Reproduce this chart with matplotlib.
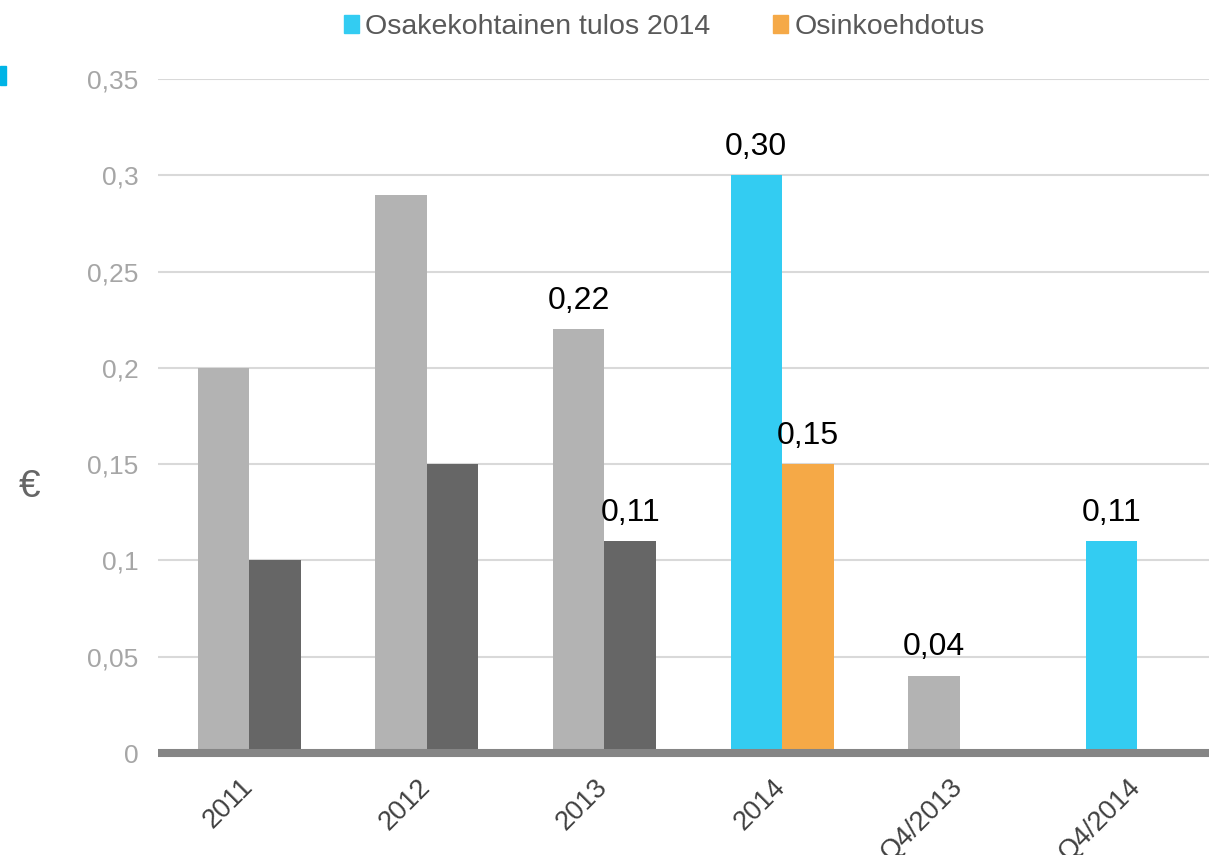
import matplotlib.pyplot as plt
from matplotlib.patches import Patch, Rectangle

categories = ["2011", "2012", "2013", "2014", "Q4/2013", "Q4/2014"]
eps = [0.20, 0.29, 0.22, 0.30, 0.04, 0.11]
dividend = [0.10, 0.15, 0.11, 0.15, None, None]
eps_colors = ["#b3b3b3", "#b3b3b3", "#b3b3b3", "#33ccf2", "#b3b3b3", "#33ccf2"]
div_colors = ["#666666", "#666666", "#666666", "#f5a947", None, None]
eps_labels = [None, None, "0,22", "0,30", "0,04", "0,11"]
div_labels = [None, None, "0,11", "0,15", None, None]
yticks = [0, 0.05, 0.1, 0.15, 0.2, 0.25, 0.3, 0.35]
ytick_labels = ["0", "0,05", "0,1", "0,15", "0,2", "0,25", "0,3", "0,35"]

plt.rcParams["font.family"] = ["Liberation Sans", "DejaVu Sans"]

fig = plt.figure(figsize=(12.09, 8.55), dpi=100)
ax = fig.add_axes([158 / 1209, 1 - 753 / 855, 1051 / 1209, (753 - 79) / 855])

w = 0.29
for i, cat in enumerate(categories):
    ax.bar(i - w / 2, eps[i], width=w, color=eps_colors[i], zorder=3)
    if eps_labels[i]:
        ax.text(i - w / 2, eps[i] + 0.007, eps_labels[i], ha="center", va="bottom",
                fontsize=23, color="black")
    if dividend[i] is not None:
        ax.bar(i + w / 2, dividend[i], width=w, color=div_colors[i], zorder=3)
        if div_labels[i]:
            ax.text(i + w / 2, dividend[i] + 0.007, div_labels[i], ha="center",
                    va="bottom", fontsize=23, color="black")

ax.set_xlim(-0.515, 5.405)
ax.set_ylim(0, 0.35)
ax.set_yticks(yticks)
ax.set_yticklabels(ytick_labels, fontsize=19, color="#a6a6a6")
# labels sit a little left of the category centre, as in the original
ax.set_xticks([i - 0.055 for i in range(len(categories))])
ax.set_xticklabels(categories, rotation=45, ha="right", rotation_mode="anchor",
                   fontsize=19.5, color="#404040")
ax.tick_params(axis="both", length=0)
ax.tick_params(axis="y", pad=14)
ax.tick_params(axis="x", pad=15)
ax.grid(axis="y", color="#d9d9d9", linewidth=1.5, zorder=0)
for s in ax.spines.values():
    s.set_visible(False)
ax.axhline(0, color="#858585", linewidth=5.8, zorder=4, clip_on=False,
           solid_capstyle="butt")

fig.text(30 / 1209, 1 - 487 / 855, "€", fontsize=28, color="#666666",
         ha="center", va="center")
fig.patches.append(Rectangle((0, 1 - 85 / 855), 6 / 1209, 19 / 855,
                             transform=fig.transFigure, color="#00b4e6"))

handles = [Patch(color="#33ccf2"), Patch(color="#f5a947")]
fig.legend(handles, ["Osakekohtainen tulos 2014", "Osinkoehdotus"],
           loc="center", bbox_to_anchor=(664 / 1209, 1 - 27 / 855), ncol=2,
           frameon=False, fontsize=20.5, labelcolor="#595959",
           handlelength=0.55, handleheight=0.55, handletextpad=0.2, columnspacing=2.2)

fig.savefig("out.png", dpi=100)
